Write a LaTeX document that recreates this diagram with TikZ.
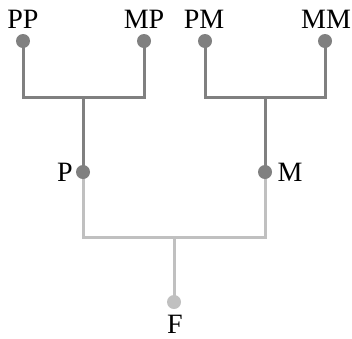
\documentclass[tikz,border=0pt]{standalone}
\usepackage{fontspec}
\setmainfont{Liberation Serif}
\pgfdeclarelayer{bg}
\pgfsetlayers{bg,main}
\definecolor{darkline}{RGB}{128,128,128}
\definecolor{lightline}{RGB}{192,192,192}
\tikzset{
  dot/.style={circle,inner sep=0pt,minimum size=14pt,fill=#1},
  link/.style={draw=#1,line width=3pt},
  lbl/.style={font=\fontsize{28}{32}\selectfont,inner sep=0pt}
}
\begin{document}
\begin{tikzpicture}[x=1pt,y=-1pt]
  \useasboundingbox (0,0) rectangle (352,338);
  % grandparents
  \node[dot=darkline] (pp) at (23,41) {};
  \node[dot=darkline] (mp) at (144,41) {};
  \node[dot=darkline] (pm) at (205,41) {};
  \node[dot=darkline] (mm) at (325,41) {};
  % parents and child
  \node[dot=darkline] (p) at (83,172) {};
  \node[dot=darkline] (m) at (265,172) {};
  \node[dot=lightline] (f) at (174,302) {};
  % junctions
  \coordinate (jl) at (83,97);
  \coordinate (jr) at (265,97);
  \coordinate (jb) at (174,237);
  % labels
  \node[lbl] (tpp) at (23,19) {PP};
  \node[lbl] (tmp) at (144,19) {MP};
  \node[lbl] (tpm) at (204,19) {PM};
  \node[lbl] (tmm) at (326,19) {MM};
  \node[lbl] (tp) at (65,172) {P};
  \node[lbl] (tm) at (290,172) {M};
  \node[lbl] (tf) at (175,324) {F};
  \begin{pgfonlayer}{bg}
    \draw[link=darkline] (pp.center) |- (jl) -| (mp.center);
    \draw[link=darkline] (jl) -- (p.center);
    \draw[link=darkline] (pm.center) |- (jr) -| (mm.center);
    \draw[link=darkline] (jr) -- (m.center);
    \draw[link=lightline] (p.center) |- (jb) -| (m.center);
    \draw[link=lightline] (jb) -- (f.center);
  \end{pgfonlayer}
\end{tikzpicture}
\end{document}
